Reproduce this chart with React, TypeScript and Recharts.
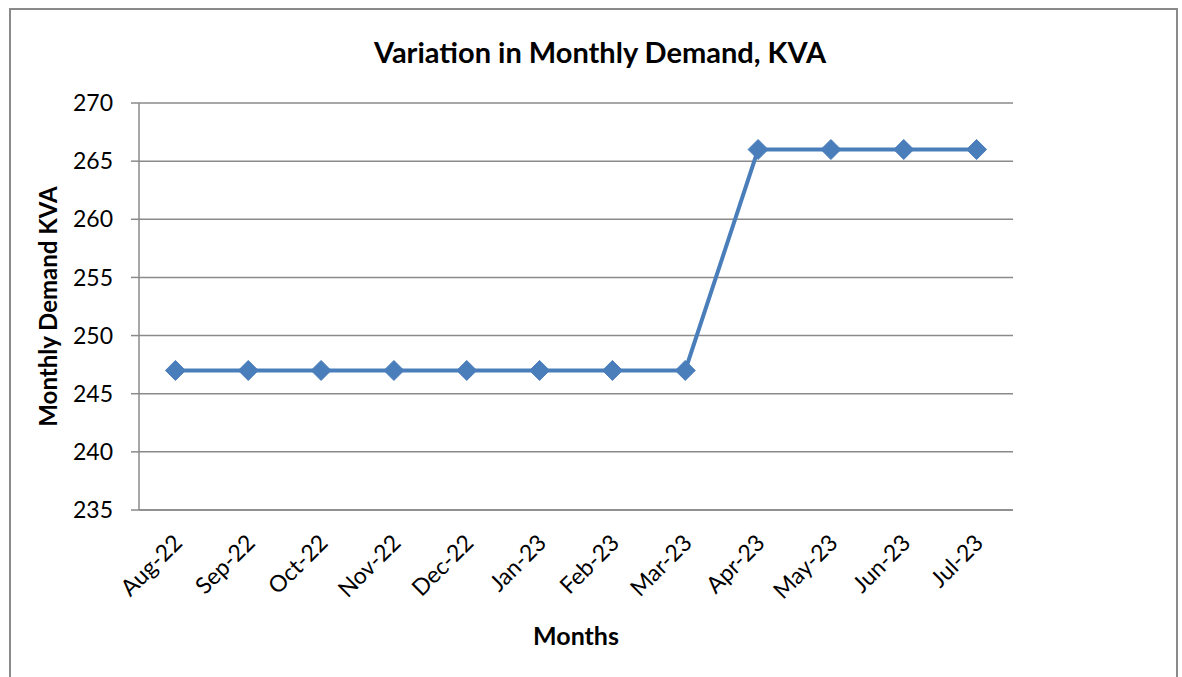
import React from "react";
import { LineChart, Line, XAxis, YAxis, CartesianGrid, Label } from "recharts";

const months = ["Aug-22", "Sep-22", "Oct-22", "Nov-22", "Dec-22", "Jan-23", "Feb-23", "Mar-23", "Apr-23", "May-23", "Jun-23", "Jul-23"];
const demand = [247, 247, 247, 247, 247, 247, 247, 247, 266, 266, 266, 266];
const yTicks = [235, 240, 245, 250, 255, 260, 265, 270];

const data = months.map((m, i) => ({ month: m, demand: demand[i] }));

const FONT = "Lato, 'Open Sans', sans-serif";
const AXIS = "#8a8a8a";
const BLUE = "#4A7EBB";

const Diamond = (props: any) => {
  const { cx, cy } = props;
  if (cx == null || cy == null) return null;
  const r = 10;
  return (
    <polygon
      points={`${cx},${cy - r} ${cx + r},${cy} ${cx},${cy + r} ${cx - r},${cy}`}
      fill={BLUE}
      stroke={BLUE}
      strokeWidth={1}
    />
  );
};

const XTick = (props: any) => {
  const { x, y, payload } = props;
  return (
    <g transform={`translate(${x - 4},${y + 14})`}>
      <text
        x={0}
        y={0}
        dy={"0.75em"}
        textAnchor="end"
        transform="rotate(-45)"
        fontFamily={FONT}
        fontSize={23}
        fill="#000"
      >
        {payload.value}
      </text>
    </g>
  );
};

export default function App() {
  return (
    <div style={{ position: "absolute", left: 0, top: 0, width: 1182, height: 677, background: "#fff", overflow: "hidden" }}>
      <div
        style={{
          position: "absolute",
          left: 9,
          top: 8,
          width: 1169,
          height: 700,
          border: `2px solid ${AXIS}`,
          boxSizing: "border-box",
        }}
      />
      <div
        style={{
          position: "absolute",
          left: 0,
          top: 33,
          width: 1200,
          textAlign: "center",
          fontFamily: FONT,
          fontWeight: 700,
          fontSize: 29,
          color: "#000",
          lineHeight: "38px",
        }}
      >
        Variation in Monthly Demand, KVA
      </div>
      <div style={{ position: "absolute", left: 0, top: 0 }}>
        <LineChart
          width={1182}
          height={677}
          data={data}
          margin={{ top: 103, right: 169, bottom: 0, left: 0 }}
        >
          <CartesianGrid vertical={false} stroke={AXIS} strokeWidth={1.5} />
          <XAxis
            dataKey="month"
            scale="band"
            height={167}
            axisLine={{ stroke: AXIS, strokeWidth: 1.5 }}
            tickLine={false}
            tick={<XTick />}
            interval={0}
          >
            <Label
              value="Months"
              position="insideBottom"
              offset={32}
              style={{ fontFamily: FONT, fontWeight: 700, fontSize: 25, fill: "#000" }}
            />
          </XAxis>
          <YAxis
            domain={[235, 270]}
            ticks={yTicks}
            width={139}
            axisLine={{ stroke: AXIS, strokeWidth: 1.5 }}
            tickLine={{ stroke: AXIS, strokeWidth: 1.5 }}
            tickSize={8}
            tickMargin={18}
            tick={{ fontFamily: FONT, fontSize: 23, fill: "#000" }}
          >
            <Label
              value="Monthly Demand KVA"
              angle={-90}
              position="insideLeft"
              offset={48}
              style={{ fontFamily: FONT, fontWeight: 700, fontSize: 24, fill: "#000", textAnchor: "middle" }}
            />
          </YAxis>
          <Line
            type="linear"
            dataKey="demand"
            stroke={BLUE}
            strokeWidth={4}
            dot={<Diamond />}
            activeDot={false}
            isAnimationActive={false}
          />
        </LineChart>
      </div>
    </div>
  );
}
